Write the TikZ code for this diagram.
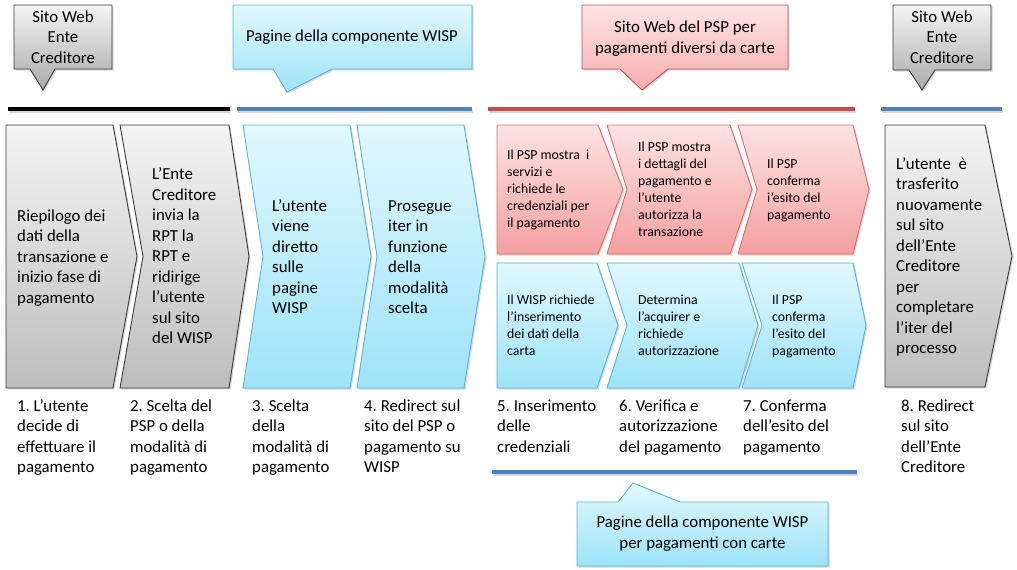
\documentclass[tikz,border=0pt]{standalone}
\usepackage{fontspec}
\setmainfont{Carlito}
\usetikzlibrary{shadows}
\frenchspacing
\definecolor{grayT}{HTML}{F4F4F4}
\definecolor{grayB}{HTML}{BDBDBD}
\definecolor{grayD}{HTML}{3A3A3A}
\definecolor{blueT}{HTML}{E2F8FE}
\definecolor{blueB}{HTML}{9DE3F8}
\definecolor{blueD}{HTML}{5AB4CE}
\definecolor{redT}{HTML}{FDE3E3}
\definecolor{redB}{HTML}{F4A0A0}
\definecolor{redD}{HTML}{D66F6D}
\definecolor{lineBlue}{HTML}{4F81BD}
\definecolor{lineRed}{HTML}{C0504D}
\newcommand\mychev[7]{%
  \path[#1] (#2,#6) -- (#4,#6) -- (#5,{(#6+#7)/2}) -- (#4,#7) -- (#2,#7) -- (#3,{(#6+#7)/2}) -- cycle;}
\tikzset{
  graybox/.style={top color=grayT, bottom color=grayB, draw=grayD, line width=0.9pt},
  bluebox/.style={top color=blueT, bottom color=blueB, draw=blueD, line width=0.9pt},
  redbox/.style={top color=redT, bottom color=redB, draw=redD, line width=0.9pt},
  grayco/.style={top color=grayT, bottom color=grayB!90!black, draw=grayD, line width=0.9pt},
  redco/.style={top color=redT, bottom color=redB!85!white, draw=lineRed, line width=0.9pt},
  shad/.style={drop shadow={shadow xshift=1.5pt, shadow yshift=-1.5pt, opacity=0.3, fill=black!50}},
  big/.style={font=\fontsize{16.8}{20.5}\selectfont, inner sep=0pt, align=left, anchor=north west},
  small/.style={font=\fontsize{13.8}{17}\selectfont, inner sep=0pt, align=left, anchor=north west},
  ctext/.style={font=\fontsize{16.8}{20.5}\selectfont, inner sep=0pt, align=center, anchor=north},
  bar/.style={line width=3.5pt},
  barshadow/.style={line width=3pt, black!25, opacity=0.6},
}
\begin{document}
\begin{tikzpicture}[x=1pt,y=-1pt]
\fill[white] (0,0) rectangle (1017,570);
\useasboundingbox (0,0) rectangle (1017,570);

% ---- callouts
\path[shad, grayco] (14,5) -- (112,5) -- (112,69) -- (55,69) -- (43,90) -- (30,69) -- (14,69) -- cycle;
\path[shad, bluebox] (233,5) -- (472,5) -- (472,69) -- (332,69) -- (287,92) -- (273,69) -- (233,69) -- cycle;
\path[shad, redco] (582,5) -- (788,5) -- (788,69) -- (668,69) -- (642,90) -- (620,69) -- (582,69) -- cycle;
\path[shad, grayco] (893,5) -- (991,5) -- (991,70) -- (935,70) -- (922,90) -- (909,70) -- (893,70) -- cycle;
\path[shad, bluebox] (577,502) -- (618,502) -- (633,483) -- (680,502) -- (828,502) -- (828,566) -- (577,566) -- cycle;

\node[ctext] (c1) at (63,7.65) {\strut Sito Web\\Ente\\Creditore};
\node[ctext] (c2) at (352,26.65) {\strut Pagine della componente WISP};
\node[ctext] (c3) at (685,18.15) {\strut Sito Web del PSP per\\pagamenti diversi da carte};
\node[ctext] (c4) at (942,7.65) {\strut Sito Web\\Ente\\Creditore};
\node[ctext] (c5) at (702.5,513.15) {\strut Pagine della componente WISP\\per pagamenti con carte};

% ---- bars
\draw[barshadow] (9,111.5) -- (231,111.5);
\draw[barshadow] (238,111.5) -- (473,111.5);
\draw[barshadow] (489,111.5) -- (856,111.5);
\draw[barshadow] (882,111.5) -- (1003,111.5);
\draw[barshadow] (493,474.5) -- (858,474.5);
\draw[bar, black] (8,109) -- (230,109);
\draw[bar, lineBlue] (237,109) -- (472,109);
\draw[bar, lineRed] (488,109) -- (855,109);
\draw[bar, lineBlue] (881,109) -- (1002,109);
\draw[bar, lineBlue] (492,472) -- (857,472);

% ---- chevrons
\mychev{shad, graybox}{6}{6}{113}{137}{125}{388}
\mychev{shad, graybox}{120}{143}{229}{249}{125}{388}
\mychev{shad, bluebox}{243}{263}{350}{371}{125}{388}
\mychev{shad, bluebox}{357}{377}{464}{485}{125}{388}
\mychev{shad, redbox}{497}{497}{598}{623}{125}{254}
\mychev{shad, redbox}{607}{627}{730}{752}{125}{254}
\mychev{shad, redbox}{738}{757}{853}{869}{125}{254}
\mychev{shad, bluebox}{497}{497}{597}{618}{263}{388}
\mychev{shad, bluebox}{607}{627}{739}{758}{263}{388}
\mychev{shad, bluebox}{742}{762}{853}{866}{263}{388}
\mychev{shad, graybox}{885}{885}{985}{1012}{125}{387}

% ---- chevron texts
\node[big] (t1) at (17,206.65) {\strut Riepilogo dei\\dati della\\transazione e\\inizio fase di\\pagamento};
\node[big] (t2) at (152,165.15) {\strut L’Ente\\Creditore\\invia la\\RPT la\\RPT e\\ridirige\\l’utente\\sul sito\\del WISP};
\node[big] (t3) at (272,196.65) {\strut L’utente\\viene\\diretto\\sulle\\pagine\\WISP};
\node[big] (t4) at (388,196.65) {\strut Prosegue\\iter in\\funzione\\della\\modalità\\scelta};
\node[small] (t5a) at (507,147.6) {\strut Il PSP mostra~ i\\servizi e\\richiede le\\credenziali per\\il pagamento};
\node[small] (t6a) at (638,139.1) {\strut Il PSP mostra\\i dettagli del\\pagamento e\\l’utente\\autorizza la\\transazione};
\node[small] (t7a) at (767,156.1) {\strut Il PSP\\conferma\\i’esito del\\pagamento};
\node[small] (t5b) at (507,292.6) {\strut Il WISP richiede\\l’inserimento\\dei dati della\\carta};
\node[small] (t6b) at (638,292.6) {\strut Determina\\l’acquirer e\\richiede\\autorizzazione};
\node[small] (t7b) at (772,292.6) {\strut Il PSP\\conferma\\l’esito del\\pagamento};
\node[big] (t8) at (896,154.65) {\strut L’utente~ è\\trasferito\\nuovamente\\sul sito\\dell’Ente\\Creditore\\per\\completare\\l’iter del\\processo};

% ---- step labels
\node[big] (l1) at (17,396.65) {\strut 1. L’utente\\decide di\\effettuare il\\pagamento};
\node[big] (l2) at (130,396.65) {\strut 2. Scelta del\\PSP o della\\modalità di\\pagamento};
\node[big] (l3) at (252,396.65) {\strut 3. Scelta\\della\\modalità di\\pagamento};
\node[big] (l4) at (364,396.65) {\strut 4. Redirect sul\\sito del PSP o\\pagamento su\\WISP};
\node[big] (l5) at (497,396.65) {\strut 5. Inserimento\\delle\\credenziali};
\node[big] (l6) at (619,396.65) {\strut 6. Verifica e\\autorizzazione\\del pagamento};
\node[big] (l7) at (743,396.65) {\strut 7. Conferma\\dell’esito del\\pagamento};
\node[big] (l8) at (901,396.65) {\strut 8. Redirect\\sul sito\\dell’Ente\\Creditore};
\end{tikzpicture}
\end{document}
